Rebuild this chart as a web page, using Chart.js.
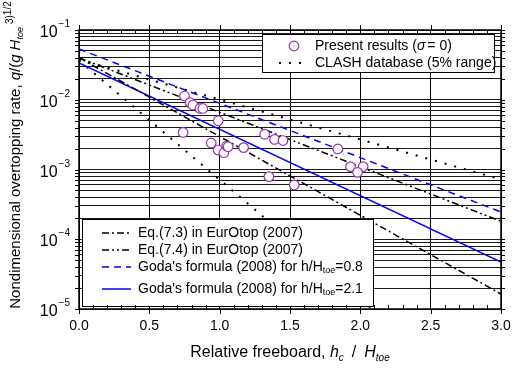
<!DOCTYPE html>
<html>
<head>
<meta charset="utf-8">
<title>Overtopping rate vs relative freeboard</title>
<script src="https://cdn.jsdelivr.net/npm/chart.js@4.4.1/dist/chart.umd.min.js"></script>
<style>
  html, body { margin: 0; padding: 0; background: #fff; }
</style>
</head>
<body>
<canvas id="overtopChart" width="527" height="372"></canvas>
<script>
// model tests, sigma = 0
const testFreeboard = [0.75, 0.79, 0.81, 0.86, 0.88, 0.99, 0.74, 0.94, 0.99, 1.03, 1.05, 1.06, 1.17, 1.32, 1.39, 1.45, 1.35, 1.53, 1.84, 1.93, 2.02, 1.98];
const testRate = [0.0113, 0.0091, 0.0084, 0.0075, 0.0075, 0.0050, 0.0034, 0.0024, 0.0019, 0.00174, 0.00217, 0.00212, 0.00206, 0.0032, 0.0027, 0.0026, 0.00079, 0.00060, 0.00197, 0.00110, 0.00110, 0.00091];

// straight lines on the log axis, given by their end points
const lineFreeboard = [0, 3];
const eq73Rate = [0.04, 1.64e-5];
const eq74Rate = [0.04, 1.81e-4];
const goda08Rate = [0.0534, 2.46e-4];
const goda21Rate = [0.0336, 4.7e-5];
const clashUpperRate = [0.0377, 7.2e-4];
const clashLowerRate = [0.0366, 2.7e-7];

const xTicks = [0, 0.5, 1.0, 1.5, 2.0, 2.5, 3.0];
const yDecades = [-5, -4, -3, -2, -1];

const FAM = '"Liberation Sans", Arial, sans-serif';
const f = (size, style) => `${style || ''} ${size}px ${FAM}`;
const ink = '#000';
const purple = '#9933aa';
const blue = '#0000ff';

const pts = (xv, yv) => xv.map((x, i) => ({ x: x, y: yv[i] }));

// draw a row of text pieces with different fonts / offsets
function drawRuns(ctx, runs, x, y, center) {
    let w = 0;
    runs.forEach(r => {
        ctx.font = r.font;
        r.w = ctx.measureText(r.text).width;
        w += r.w + (r.gap || 0);
    });
    let cx = center ? x - w / 2 : x;
    runs.forEach(r => {
        ctx.font = r.font;
        ctx.fillText(r.text, cx, y + (r.dy || 0));
        cx += r.w + (r.gap || 0);
    });
}

function legendLine(ctx, ds, x0, x1, y) {
    ctx.save();
    ctx.strokeStyle = ds.borderColor;
    ctx.lineWidth = ds.borderWidth;
    ctx.setLineDash(ds.borderDash || []);
    ctx.beginPath();
    ctx.moveTo(x0, y);
    ctx.lineTo(x1, y);
    ctx.stroke();
    ctx.restore();
}

const decorations = {
    id: 'decorations',
    afterDatasetsDraw(chart) {
        const ctx = chart.ctx;
        const xs = chart.scales.x, ys = chart.scales.y;
        const { left, right, top, bottom } = chart.chartArea;
        const ds = chart.data.datasets;
        ctx.save();

        // upper legend
        ctx.fillStyle = '#fff';
        ctx.fillRect(262, 34, 232, 38);
        ctx.strokeStyle = ink;
        ctx.lineWidth = 1;
        ctx.strokeRect(262.5, 34.5, 232, 38);
        ctx.beginPath();
        ctx.arc(294, 46, 4.8, 0, Math.PI * 2);
        ctx.fillStyle = '#fff';
        ctx.fill();
        ctx.strokeStyle = purple;
        ctx.lineWidth = 1.2;
        ctx.stroke();
        ctx.fillStyle = purple;
        ctx.fillRect(293.5, 45.5, 1, 1);
        ctx.fillStyle = ink;
        [280, 290, 300].forEach(x => ctx.fillRect(x - 1, 62, 2, 2));
        ctx.textBaseline = 'middle';
        ctx.textAlign = 'left';
        drawRuns(ctx, [
            { text: 'Present results (', font: f(14) },
            { text: 'σ', font: f(14, 'italic'), gap: 2 },
            { text: '= 0)', font: f(14) }
        ], 315, 46);
        drawRuns(ctx, [{ text: 'CLASH database (5% range)', font: f(14) }], 315, 63);

        // lower legend
        ctx.fillStyle = '#fff';
        ctx.fillRect(82, 219, 291, 87);
        ctx.strokeStyle = ink;
        ctx.lineWidth = 1;
        ctx.strokeRect(82.5, 219.5, 291, 87);
        const rows = [
            { d: ds[3], y: 233, runs: [{ text: 'Eq.(7.3) in EurOtop (2007)', font: f(14) }] },
            { d: ds[4], y: 250, runs: [{ text: 'Eq.(7.4) in EurOtop (2007)', font: f(14) }] },
            { d: ds[5], y: 267, runs: [
                { text: "Goda's formula (2008) for h/H", font: f(14) },
                { text: 'toe', font: f(9), dy: 4 },
                { text: '=0.8', font: f(14) }] },
            { d: ds[6], y: 289, runs: [
                { text: "Goda's formula (2008) for h/H", font: f(14) },
                { text: 'toe', font: f(9), dy: 4 },
                { text: '=2.1', font: f(14) }] }
        ];
        rows.forEach(r => {
            legendLine(ctx, r.d, 102, 131, r.y);
            ctx.fillStyle = ink;
            drawRuns(ctx, r.runs, 138, r.y);
        });

        // frame and tick marks
        ctx.strokeStyle = ink;
        ctx.lineWidth = 1;
        ctx.beginPath();
        for (let i = 0; i <= 30; i++) {
            const px = Math.round(xs.getPixelForValue(i / 10)) + 0.5;
            if (i % 5 === 0) {
                ctx.moveTo(px, bottom); ctx.lineTo(px, bottom + 5);
                ctx.moveTo(px, top); ctx.lineTo(px, top - 5);
            } else {
                ctx.moveTo(px, bottom); ctx.lineTo(px, bottom - 4);
                ctx.moveTo(px, top); ctx.lineTo(px, top + 4);
            }
        }
        ys.ticks.forEach(t => {
            const py = Math.round(ys.getPixelForValue(t.value)) + 0.5;
            ctx.moveTo(left - 4, py); ctx.lineTo(left, py);
            ctx.moveTo(right, py); ctx.lineTo(right + 4, py);
        });
        ctx.stroke();
        ctx.lineWidth = 1.5;
        ctx.strokeRect(left, top, right - left, bottom - top);

        // y tick labels 10^n
        ctx.fillStyle = ink;
        ctx.textBaseline = 'alphabetic';
        yDecades.forEach(e => {
            const py = ys.getPixelForValue(Math.pow(10, e));
            const sup = '\u2212' + Math.abs(e);
            ctx.font = f(10);
            const ws = ctx.measureText(sup).width;
            ctx.font = f(16);
            const wb = ctx.measureText('10').width;
            const x0 = 70 - ws - wb - 1;
            ctx.fillText('10', x0, py + 7);
            ctx.font = f(10);
            ctx.fillText(sup, x0 + wb + 1, py - 3);
        });

        // x axis title
        drawRuns(ctx, [
            { text: 'Relative freeboard, ', font: f(16) },
            { text: 'h', font: f(16, 'italic') },
            { text: 'c', font: f(10, 'italic'), dy: 4, gap: 8 },
            { text: '/', font: f(16), gap: 8 },
            { text: 'H', font: f(16, 'italic') },
            { text: 'toe', font: f(10, 'italic'), dy: 4 }
        ], (left + right) / 2, 357, true);

        // y axis title
        ctx.save();
        ctx.translate(20, 155);
        ctx.rotate(-Math.PI / 2);
        drawRuns(ctx, [
            { text: 'Nondimensional overtopping rate, ', font: f(15) },
            { text: 'q', font: f(15, 'italic') },
            { text: '/(', font: f(15) },
            { text: 'g', font: f(15, 'italic'), gap: 4 },
            { text: 'H', font: f(15, 'italic') },
            { text: 'toe', font: f(9, 'italic'), dy: 3, gap: 3 },
            { text: '3', font: f(10), dy: -7 },
            { text: ')', font: f(10), dy: -7 },
            { text: '1/2', font: f(10), dy: -9 }
        ], 0, 0, true);
        ctx.restore();

        ctx.restore();
    }
};

const ctx = document.getElementById('overtopChart');
new Chart(ctx, {
    type: 'scatter',
    data: {
        datasets: [
            {
                label: 'Present results',
                data: pts(testFreeboard, testRate),
                pointRadius: 4.8,
                pointBorderWidth: 1.2,
                pointBorderColor: purple,
                pointBackgroundColor: '#fff',
                showLine: false
            },
            {
                label: 'centre dots',
                data: pts(testFreeboard, testRate),
                pointRadius: 0.6,
                pointBorderWidth: 0,
                pointBackgroundColor: purple,
                showLine: false
            },
            {
                label: 'CLASH upper',
                data: pts(lineFreeboard, clashUpperRate),
                showLine: true, pointRadius: 0,
                borderColor: ink, borderWidth: 2, borderDash: [2, 8]
            },
            {
                label: 'Eq.(7.3)',
                data: pts(lineFreeboard, eq73Rate),
                showLine: true, pointRadius: 0,
                borderColor: ink, borderWidth: 1.5, borderDash: [7, 3, 2, 3]
            },
            {
                label: 'Eq.(7.4)',
                data: pts(lineFreeboard, eq74Rate),
                showLine: true, pointRadius: 0,
                borderColor: ink, borderWidth: 1.5, borderDash: [7, 3, 2, 3, 2, 3]
            },
            {
                label: 'Goda h/H=0.8',
                data: pts(lineFreeboard, goda08Rate),
                showLine: true, pointRadius: 0,
                borderColor: blue, borderWidth: 1.5, borderDash: [7, 5]
            },
            {
                label: 'Goda h/H=2.1',
                data: pts(lineFreeboard, goda21Rate),
                showLine: true, pointRadius: 0,
                borderColor: blue, borderWidth: 1.5
            },
            {
                label: 'CLASH lower',
                data: pts(lineFreeboard, clashLowerRate),
                showLine: true, pointRadius: 0,
                borderColor: ink, borderWidth: 2, borderDash: [2, 8]
            }
        ]
    },
    options: {
        responsive: false,
        animation: false,
        layout: { padding: { top: 30, right: 26, bottom: 0, left: 0 } },
        plugins: {
            legend: { display: false },
            tooltip: { enabled: false }
        },
        scales: {
            x: {
                type: 'linear',
                min: 0,
                max: 3,
                afterFit: s => { s.height = 63; },
                afterBuildTicks: s => { s.ticks = xTicks.map(v => ({ value: v })); },
                ticks: {
                    callback: v => Number(v).toFixed(1),
                    font: { family: FAM, size: 14 },
                    color: ink,
                    padding: 9,
                    maxRotation: 0
                },
                grid: { color: ink, lineWidth: 1, drawTicks: false },
                border: { display: false }
            },
            y: {
                type: 'logarithmic',
                min: 1e-5,
                max: 0.1,
                afterFit: s => { s.width = 79; },
                afterBuildTicks: s => {
                    const t = [];
                    for (let e = -5; e <= -2; e++) {
                        for (let m = 1; m <= 9; m++) t.push({ value: m * Math.pow(10, e) });
                    }
                    t.push({ value: 0.1 });
                    s.ticks = t;
                },
                ticks: { display: false },
                grid: { color: '#1a1a1a', lineWidth: 1, drawTicks: false },
                border: { display: false }
            }
        }
    },
    plugins: [decorations]
});
</script>
</body>
</html>
